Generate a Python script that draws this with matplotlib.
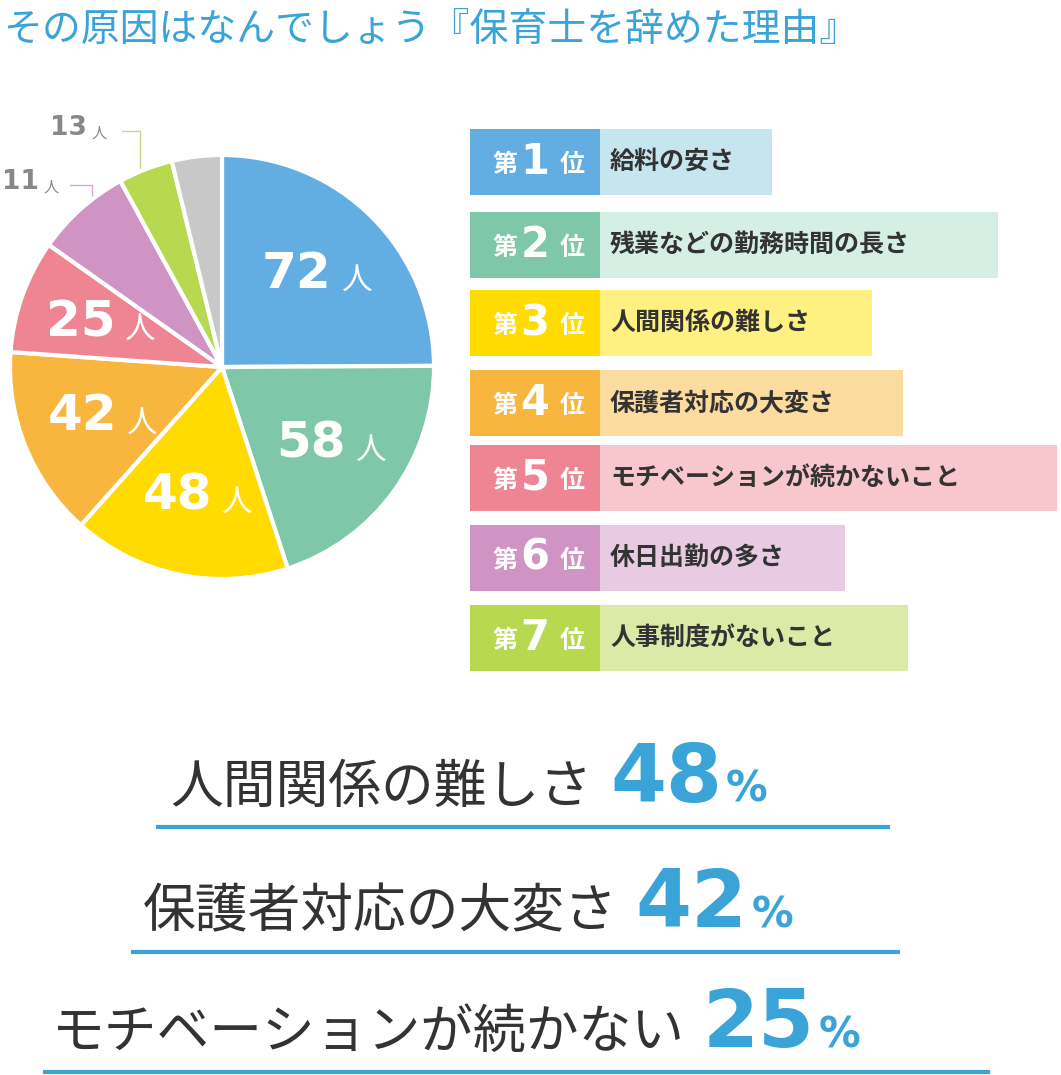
import matplotlib
matplotlib.use("Agg")
import matplotlib.pyplot as plt
from matplotlib.patches import Rectangle
import numpy as np

plt.rcParams["font.family"] = "Noto Sans CJK JP"

title = "その原因はなんでしょう『保育士を辞めた理由』"
slice_values = [72, 58, 48, 42, 25, 21, 12, 11]
slice_labels = ["72", "58", "48", "42", "25", "", "", ""]
slice_colors = ["#62aee3", "#7ec8a9", "#ffdb00", "#f8b63e", "#ef8593", "#cf93c4", "#b7d84f", "#c8c8c8"]
small_labels = ["13", "11"]

ranks = ["1", "2", "3", "4", "5", "6", "7"]
reasons = ["給料の安さ", "残業などの勤務時間の長さ", "人間関係の難しさ", "保護者対応の大変さ",
           "モチベーションが続かないこと", "休日出勤の多さ", "人事制度がないこと"]
rank_dark = ["#62aee3", "#7ec8a9", "#ffdb00", "#f8b63e", "#ef8593", "#cf93c4", "#b7d84f"]
rank_light = ["#c7e5ef", "#d6efe5", "#fff082", "#fcdb9f", "#f8c6cd", "#e8cbe2", "#dceaa7"]
bar_right = [772, 998, 872, 903, 1057, 845, 908]
row_y = [162, 245, 323, 403, 478, 558, 638]

summary = ["人間関係の難しさ", "保護者対応の大変さ", "モチベーションが続かない"]
summary_pct = ["48", "42", "25"]

fig = plt.figure(figsize=(10.61, 10.75), dpi=100)
ax = fig.add_axes([0, 0, 1, 1])
ax.set_xlim(0, 1061); ax.set_ylim(1075, 0); ax.axis("off")

ax.text(3, 30, title, fontsize=28, color="#3aa3d8", va="center", ha="left")

# pie
cx, cy, r = 222, 367, 212
pax = fig.add_axes([(cx - r) / 1061, 1 - (cy + r) / 1075, 2 * r / 1061, 2 * r / 1075])
wedges, _ = pax.pie(slice_values, colors=slice_colors, startangle=90, counterclock=False,
                    wedgeprops=dict(edgecolor="white", linewidth=3))
pax.set_aspect("auto")
pax.set_xlim(-1, 1); pax.set_ylim(-1, 1)
tot = sum(slice_values); ang = 90
for v, lab in zip(slice_values, slice_labels):
    mid = ang - v / tot * 180
    ang -= v / tot * 360
    if lab:
        x, y = 0.62 * np.cos(np.radians(mid)), 0.62 * np.sin(np.radians(mid))
        pax.text(x + 0.08, y, lab, fontsize=36, fontweight="bold", color="white", ha="right", va="center",
                 family="DejaVu Sans")
        pax.text(x + 0.2, y - 0.03, "人", fontsize=22, color="white", ha="center", va="center")

# small labels with leaders
ax.text(50, 128, "13", fontsize=19, fontweight="bold", color="#888888", ha="left", va="center", family="DejaVu Sans")
ax.text(92, 133, "人", fontsize=11, color="#888888", ha="left", va="center")
ax.plot([122, 140, 140], [131, 131, 175], color="#c8d88a", lw=1)
ax.text(2, 182, "11", fontsize=19, fontweight="bold", color="#888888", ha="left", va="center", family="DejaVu Sans")
ax.text(44, 187, "人", fontsize=11, color="#888888", ha="left", va="center")
ax.plot([70, 92, 92], [185, 185, 225], color="#d6a8cf", lw=1)

# ranking
for i in range(7):
    y = row_y[i]; h = 66
    ax.add_patch(Rectangle((470, y - h / 2), bar_right[i] - 470, h, color=rank_light[i], lw=0))
    ax.add_patch(Rectangle((470, y - h / 2), 130, h, color=rank_dark[i], lw=0))
    ax.text(505, y + 3, "第", fontsize=18, color="white", fontweight="bold", ha="center", va="center")
    ax.text(535, y, ranks[i], fontsize=30, color="white", fontweight="bold", ha="center", va="center",
            family="DejaVu Sans")
    ax.text(572, y + 3, "位", fontsize=18, color="white", fontweight="bold", ha="center", va="center")
    ax.text(610, y, reasons[i], fontsize=18, color="#333333", fontweight="bold", ha="left", va="center")

# summary
lines = [(158, 888, 827, 170), (133, 898, 952, 143), (45, 988, 1072, 52)]
for (x0, x1, uy, tx), s, p in zip(lines, summary, summary_pct):
    ax.plot([x0, x1], [uy, uy], color="#3aa3d8", lw=3)
    t = ax.text(tx, uy - 40, s, fontsize=38, color="#333333", ha="left", va="center")
    fig.canvas.draw()
    bb = t.get_window_extent()
    xr = bb.x1 + 18
    n = ax.text(xr, uy - 47, p, fontsize=58, fontweight="bold", color="#3aa3d8", ha="left", va="center",
                family="DejaVu Sans")
    fig.canvas.draw()
    nb = n.get_window_extent()
    ax.text(nb.x1 + 4, uy - 37, "%", fontsize=30, fontweight="bold", color="#3aa3d8", ha="left", va="center",
            family="DejaVu Sans")

fig.savefig("out.png", dpi=100)
